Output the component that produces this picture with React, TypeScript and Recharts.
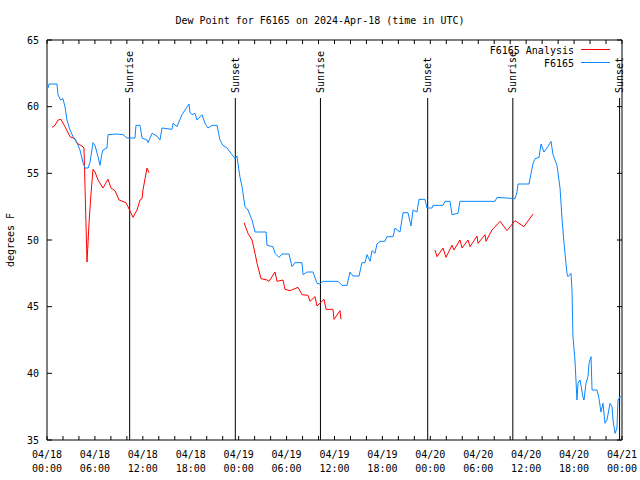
import React from 'react';
import {
  LineChart, Line, XAxis, YAxis, ReferenceLine, ReferenceArea, Legend
} from 'recharts';

// hours since 04/18 00:00 UTC
const stationHours = [
  0.13, 0.25, 1.25, 1.38, 1.7, 2.0, 2.25, 2.5, 2.88, 3.26, 3.76, 4.13, 4.51, 4.76, 5.13, 5.38,
  5.76, 6.01, 6.39, 6.64, 6.89, 7.01, 7.51, 7.64, 8.77, 9.52, 10.02, 11.02, 11.14, 11.65, 11.9,
  12.52, 12.65, 13.15, 13.77, 14.15, 14.4, 15.65, 15.78, 16.28, 16.9, 17.28, 17.78, 17.9, 18.16,
  18.53, 18.78, 19.41, 19.78, 20.16, 20.66, 21.29, 21.66, 22.04, 22.54, 23.17, 23.54, 23.79,
  23.92, 24.17, 24.42, 24.79, 25.17, 25.67, 26.05, 27.43, 27.55, 28.3, 28.55, 29.05, 29.43,
  30.3, 30.68, 31.05, 31.93, 32.06, 32.56, 33.31, 33.81, 34.18, 34.56, 36.44, 36.94, 37.57,
  37.94, 38.32, 39.07, 39.44, 39.82, 40.07, 40.45, 40.7, 41.07, 41.32, 41.7, 42.32, 42.57,
  43.33, 43.58, 43.95, 44.2, 44.58, 45.2, 45.58, 45.83, 46.33, 46.58, 47.33, 47.58, 48.21,
  48.33, 49.59, 49.84, 50.46, 50.71, 51.46, 51.71, 56.1, 56.35, 58.6, 58.85, 58.98, 60.36,
  60.61, 60.86, 61.11, 61.61, 61.86, 62.23, 62.73, 63.11, 63.36, 63.86, 64.24, 64.49, 64.74,
  65.11, 65.24, 65.61, 65.74, 65.86, 66.11, 66.36, 66.49, 66.74, 67.11, 67.24, 67.49, 67.74,
  67.87, 68.12, 68.25, 68.87, 69.12, 69.37, 69.62, 69.87, 70.12, 70.5, 70.75, 70.87, 71.13,
  71.37, 71.5, 71.75, 71.88
];
const stationDew = [
  61.4, 61.7, 61.7, 60.9, 60.5, 60.6, 60.0, 59.0, 58.25, 57.75, 57.3, 56.75, 55.8, 55.4, 55.4, 55.8,
  57.3, 57.1, 56.25, 55.6, 56.5, 56.75, 56.9, 57.9, 57.95, 57.9, 57.65, 57.65, 58.6, 58.6, 57.65,
  57.5, 57.3, 58.0, 57.8, 57.5, 58.4, 58.3, 58.75, 58.5, 59.4, 59.75, 60.2, 59.6, 59.4,
  59.5, 59.0, 59.4, 58.75, 58.4, 58.6, 58.6, 57.5, 57.1, 56.9, 56.4, 56.1, 56.3,
  55.7, 54.7, 54.0, 52.5, 52.25, 51.5, 50.6, 50.6, 49.6, 49.5, 49.0, 48.7, 48.95,
  48.95, 48.0, 48.3, 48.3, 47.4, 47.6, 47.6, 46.75, 46.7, 46.9, 46.9, 46.6, 46.6,
  47.6, 47.3, 47.3, 48.3, 48.3, 48.9, 48.4, 49.2, 49.0, 49.7, 49.9, 49.9, 50.25,
  50.25, 50.9, 50.7, 50.6, 52.05, 52.05, 51.05, 52.25, 52.1, 53.05, 53.05, 52.4, 52.4,
  52.6, 52.6, 52.9, 52.9, 51.9, 52.0, 52.9, 52.9, 53.2, 53.1, 53.6, 54.2, 54.2,
  55.0, 55.75, 56.1, 56.2, 57.2, 56.6, 57.0, 57.4, 56.4, 55.6, 53.9, 51.6, 49.75,
  47.5, 47.25, 47.5, 46.25, 42.75, 41.0, 38.0, 39.25, 39.5, 38.25, 38.0, 39.25, 39.75,
  40.75, 41.25, 38.75, 38.75, 38.1, 37.1, 37.75, 36.25, 36.5, 37.75, 37.5, 36.5, 35.5,
  35.9, 38.0, 38.25, 38.2
];

const analysisHours = [
  0.63, 1.0, 1.38, 1.75, 2.25, 2.88, 3.51, 3.76, 4.38, 4.63, 5.01, 5.26, 5.51, 5.76, 6.01, 6.39,
  7.01, 7.64, 8.01, 8.51, 9.02, 9.89, 10.14, 10.77, 11.27, 11.65, 11.9, 12.02, 12.52, 12.77,
  18.0,
  24.67, 25.17, 25.67, 26.05, 26.3, 26.8, 27.55, 27.8, 28.55, 28.8, 29.55, 29.8, 30.43, 31.43,
  31.93, 32.68, 32.93, 33.56, 33.81, 34.69, 34.94, 35.81, 35.94, 36.69, 36.81,
  42.0,
  48.58, 48.84, 49.59, 49.96, 50.71, 50.96, 51.71, 51.97, 52.72, 52.97, 53.85, 53.97, 54.85,
  54.97, 55.72, 56.73, 57.6, 58.6, 59.72, 60.86
];
const analysisDew: (number | null)[] = [
  58.45, 58.6, 59.0, 59.05, 58.5, 57.75, 57.6, 57.25, 57.05, 56.9, 48.35, 51.25, 53.5, 55.3, 55.1, 54.5,
  53.9, 54.55, 53.9, 53.7, 53.0, 52.8, 52.5, 51.7, 52.25, 53.0, 53.1, 53.75, 55.4, 55.05,
  null,
  51.3, 50.5, 50.0, 49.0, 48.25, 47.1, 47.0, 46.9, 47.6, 46.9, 47.0, 46.3, 46.2, 46.45,
  45.9, 45.85, 45.4, 45.75, 45.05, 45.55, 44.8, 44.8, 44.05, 44.7, 44.05,
  null,
  49.25, 48.75, 49.4, 48.7, 49.6, 49.25, 50.0, 49.4, 50.0, 49.5, 50.3, 49.75, 50.4,
  49.9, 50.75, 51.4, 50.7, 51.45, 51.0, 51.95
];

const eventNames = ['Sunrise', 'Sunset', 'Sunrise', 'Sunset', 'Sunrise', 'Sunset'];
const eventHours = [10.35, 23.58, 34.24, 47.67, 58.33, 71.7];

const xTicks = [0, 6, 12, 18, 24, 30, 36, 42, 48, 54, 60, 66, 72];
const xTickDates = ['04/18', '04/18', '04/18', '04/18', '04/19', '04/19', '04/19', '04/19', '04/20', '04/20', '04/20', '04/20', '04/21'];
const xTickTimes = ['00:00', '06:00', '12:00', '18:00', '00:00', '06:00', '12:00', '18:00', '00:00', '06:00', '12:00', '18:00', '00:00'];
const xMinorTicks = Array.from({ length: 37 }, (_, i) => i * 2);
const yTicks = [35, 40, 45, 50, 55, 60, 65];

const FONT = '"DejaVu Sans Mono", monospace';
const RED = '#ff0000';
const BLUE = '#0a86ff';

const stationData = stationHours.map((h, i) => ({ h, v: stationDew[i] }));
const analysisData = analysisHours.map((h, i) => ({ h, v: analysisDew[i] }));

const XTick = (props: any) => {
  const { x, y, payload } = props;
  const i = xTicks.indexOf(payload.value);
  return (
    <g>
      <text x={x} y={y + 6} textAnchor="middle" dominantBaseline="central" fontSize={10} fontFamily={FONT} fill="#000">{xTickDates[i]}</text>
      <text x={x} y={y + 20} textAnchor="middle" dominantBaseline="central" fontSize={10} fontFamily={FONT} fill="#000">{xTickTimes[i]}</text>
    </g>
  );
};

// rotated label sitting just above the top of the event line
const EventLabel = (props: any) => {
  const { viewBox, value } = props;
  if (!viewBox) return null;
  const x = viewBox.x + 3.5;
  const y = viewBox.y - 5;
  return (
    <text x={x} y={y} transform={`rotate(-90, ${x}, ${y})`} textAnchor="start" fontSize={10} fontFamily={FONT} fill="#000">{value}</text>
  );
};

const legendItems = [
  { name: 'F6165 Analysis', color: RED },
  { name: 'F6165', color: BLUE },
];

const LegendBox = () => (
  <svg width={640} height={30} style={{ display: 'block' }}>
    {legendItems.map((it, i) => (
      <g key={it.name}>
        <text x={574} y={7 + i * 13} textAnchor="end" dominantBaseline="central" fontSize={10} fontFamily={FONT} fill="#000">{it.name}</text>
        <line x1={581} x2={610} y1={6.5 + i * 13} y2={6.5 + i * 13} stroke={it.color} strokeWidth={1} />
      </g>
    ))}
  </svg>
);

export default function App() {
  return (
    <div style={{ position: 'absolute', left: 0, top: 0, width: 640, height: 480, background: '#fff' }}>
      <div style={{ position: 'absolute', left: 0, top: 14, width: 640, textAlign: 'center', fontFamily: FONT, fontSize: 10, lineHeight: '14px' }}>
        Dew Point for F6165 on 2024-Apr-18 (time in UTC)
      </div>
      <div style={{ position: 'absolute', left: 10, top: 240, transform: 'translate(-50%, -50%) rotate(-90deg)', fontFamily: FONT, fontSize: 10, whiteSpace: 'nowrap' }}>
        degrees F
      </div>
      <LineChart width={640} height={480} margin={{ top: 40, right: 18, bottom: 0, left: 7 }}>
        <XAxis
          type="number" dataKey="h" domain={[0, 72]} ticks={xTicks} interval={0}
          allowDataOverflow tickLine={false} axisLine={false} height={40} tick={<XTick />}
        />
        <YAxis
          type="number" domain={[35, 65]} ticks={yTicks} interval={0} allowDataOverflow width={40}
          tickLine={false} axisLine={false}
          tick={{ fontSize: 10, fontFamily: FONT, fill: '#000' }}
        />
        <ReferenceArea x1={0} x2={72} y1={35} y2={65} fill="none" fillOpacity={0} stroke="#000" strokeWidth={1} />
        {xMinorTicks.map((t) => (
          <ReferenceLine key={`xb${t}`} segment={[{ x: t, y: 35 }, { x: t, y: 35.3 }]} stroke="#000" />
        ))}
        {xMinorTicks.map((t) => (
          <ReferenceLine key={`xt${t}`} segment={[{ x: t, y: 65 }, { x: t, y: 64.7 }]} stroke="#000" />
        ))}
        {yTicks.map((t) => (
          <ReferenceLine key={`yl${t}`} segment={[{ x: 0, y: t }, { x: 0.63, y: t }]} stroke="#000" />
        ))}
        {yTicks.map((t) => (
          <ReferenceLine key={`yr${t}`} segment={[{ x: 72, y: t }, { x: 71.37, y: t }]} stroke="#000" />
        ))}
        {eventHours.map((h, i) => (
          <ReferenceLine
            key={`ev${i}`}
            segment={[{ x: h, y: 60.65 }, { x: h, y: 35 }]}
            stroke="#000"
            strokeWidth={1}
            label={<EventLabel value={eventNames[i]} />}
          />
        ))}
        <Line data={analysisData} dataKey="v" name="F6165 Analysis" type="linear" stroke={RED} strokeWidth={1} dot={false} connectNulls={false} isAnimationActive={false} />
        <Line data={stationData} dataKey="v" name="F6165" type="linear" stroke={BLUE} strokeWidth={1} dot={false} isAnimationActive={false} />
        <Legend
          layout="horizontal" verticalAlign="middle" align="center"
          content={() => <LegendBox />}
          wrapperStyle={{ position: 'absolute', top: 43, left: 0, width: 640, height: 30 }}
        />
      </LineChart>
    </div>
  );
}
